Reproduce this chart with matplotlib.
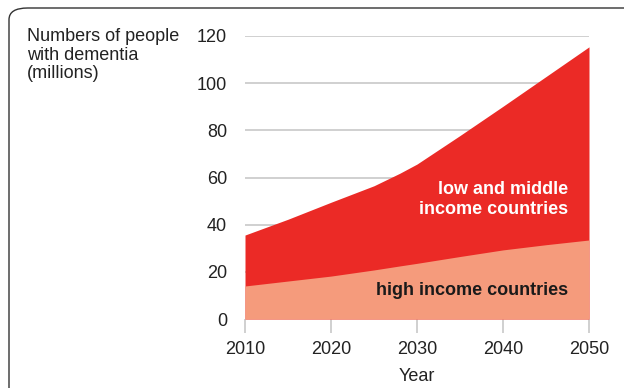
import matplotlib
matplotlib.use('Agg')
import matplotlib.pyplot as plt
from matplotlib.patches import FancyBboxPatch

# Projected numbers of people with dementia (millions)
years = [2010, 2015, 2020, 2025, 2028, 2030, 2035, 2040, 2045, 2050]
total = [35.6, 42.3, 49.5, 56.5, 61.8, 65.7, 77.8, 90.2, 102.8, 115.4]
high_income = [14.0, 16.1, 18.2, 20.8, 22.5, 23.6, 26.5, 29.3, 31.5, 33.5]

x_ticks = [2010, 2020, 2030, 2040, 2050]
y_ticks = [0, 20, 40, 60, 80, 100, 120]

RED = '#EB2A26'
SALMON = '#F59B7C'
FONT = ['Liberation Sans Narrow', 'Liberation Sans', 'DejaVu Sans']

plt.rcParams['font.family'] = FONT

fig = plt.figure(figsize=(6.24, 3.88), dpi=100)
ax = fig.add_axes([245 / 624, 1 - 319 / 388, 344 / 624, 283 / 388])

# rounded frame, cut off at right and bottom like the original
frame = FancyBboxPatch((9 / 624, -0.2), 1.2, 1 - 8 / 388 + 0.2,
                       boxstyle='round,pad=0,rounding_size=0.03',
                       transform=fig.transFigure, facecolor='none',
                       edgecolor='#333333', linewidth=1.0, zorder=0)
fig.patches.append(frame)

for y in y_ticks[1:]:
    ax.axhline(y, color='#c8c8c8', linewidth=1.2, zorder=1)

ax.fill_between(years, 0, total, color=RED, linewidth=0, zorder=2)
ax.fill_between(years, 0, high_income, color=SALMON, linewidth=0, zorder=3)

ax.set_xlim(2010, 2050)
ax.set_ylim(0, 120)
ax.set_xticks(x_ticks)
ax.set_yticks(y_ticks)
for s in ax.spines.values():
    s.set_visible(False)
ax.tick_params(axis='x', length=10, width=1.2, color='#c8c8c8', pad=6,
               labelsize=13, labelcolor='#222222')
ax.tick_params(axis='y', length=0, pad=13, labelsize=13, labelcolor='#222222')
ax.set_xlabel('Year', fontsize=13, color='#222222', labelpad=7)

ax.text(2047.6, 50.8, 'low and middle\nincome countries', color='white',
        fontsize=13, fontweight='bold', ha='right', va='center',
        linespacing=1.25, zorder=4)
ax.text(2047.6, 11.9, 'high income countries', color='#1a1a1a',
        fontsize=13, fontweight='bold', ha='right', va='center', zorder=4)

fig.text(27 / 624, 1 - 28 / 388, 'Numbers of people\nwith dementia\n(millions)',
         fontsize=13, color='#222222', ha='left', va='top', linespacing=1.12)

fig.savefig('out.png', dpi=100)
